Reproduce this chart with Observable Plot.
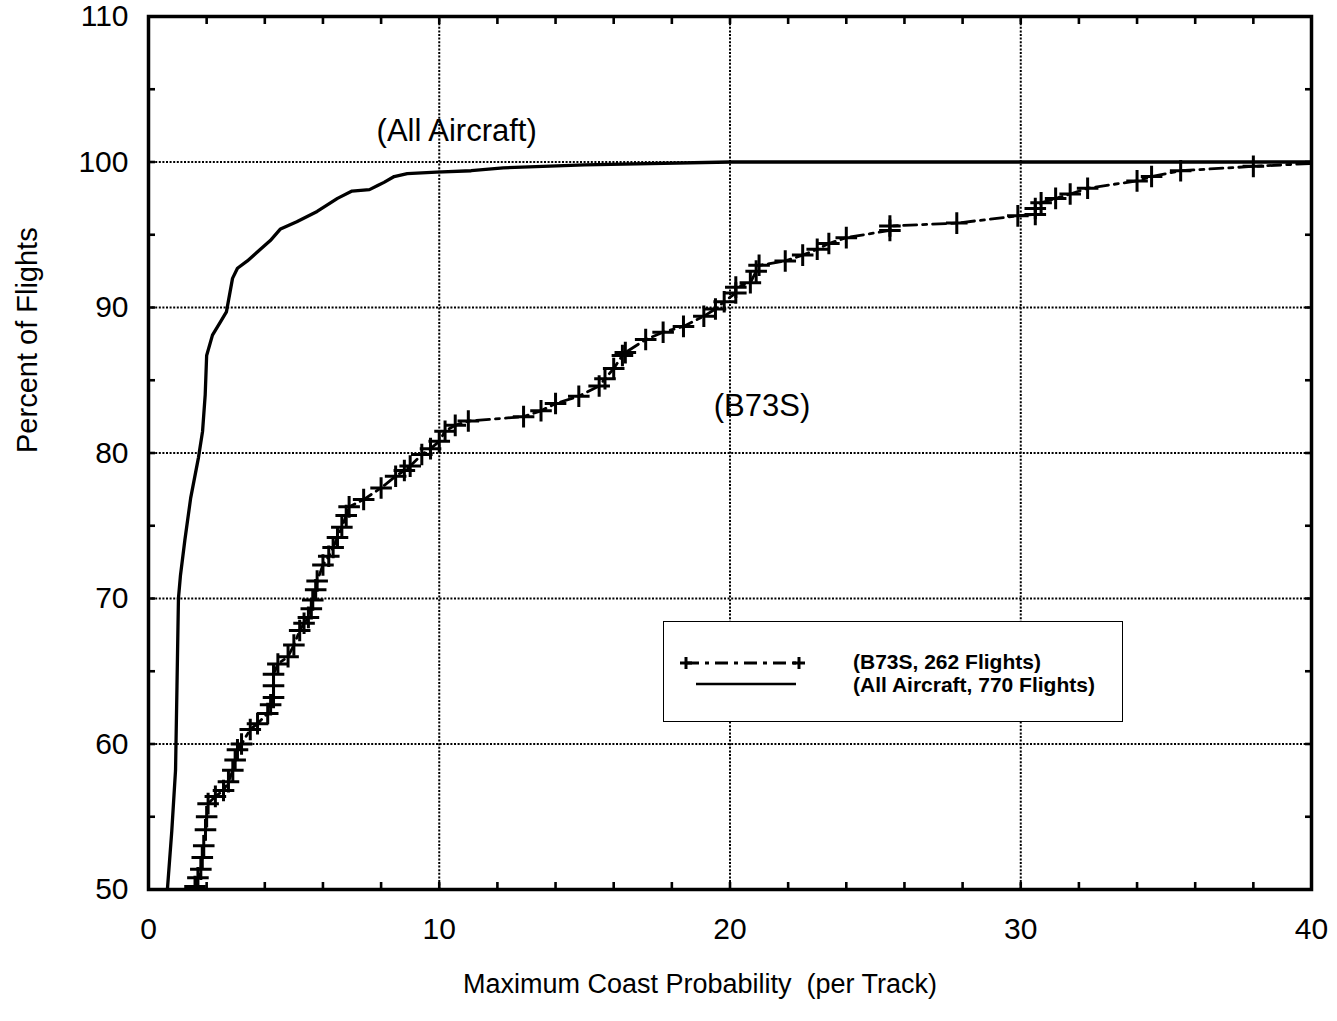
<!DOCTYPE html>
<html><head><meta charset="utf-8">
<script src="https://cdn.jsdelivr.net/npm/d3@7"></script>
<script src="https://cdn.jsdelivr.net/npm/@observablehq/plot@0.6"></script>
<style>
html,body{margin:0;padding:0;background:#fff;}
#wrap{position:relative;width:1337px;height:1021px;font-family:"Liberation Sans",Arial,Helvetica,sans-serif;}
#legend{position:absolute;left:663px;top:621px;width:460px;height:101px;border:1.5px solid #000;box-sizing:border-box;background:#fff;}
#legend svg{position:absolute;left:0;top:0;}
</style></head><body><div id="wrap"><div id="legend"></div></div>
<script>
// ---- data ----
const b73sX = [1.6,1.7,1.8,1.85,1.9,1.96,2.0,2.05,2.3,2.58,2.75,2.9,2.98,3.06,3.2,3.5,3.75,4.1,4.2,4.3,4.3,4.3,4.45,4.8,5.0,5.2,5.35,5.5,5.6,5.65,5.75,5.8,6.0,6.2,6.35,6.5,6.65,6.8,6.9,7.4,8.0,8.5,8.8,9.0,9.4,9.7,10.0,10.2,10.55,11.0,12.9,13.5,14.0,14.8,15.5,15.7,16.0,16.3,16.4,17.1,17.7,18.4,19.1,19.5,19.8,20.2,20.2,20.7,20.9,21.0,21.9,22.5,23.0,23.4,24.0,25.5,25.5,27.8,29.9,30.5,30.5,30.7,31.2,31.7,32.3,34.0,34.5,35.5,38.0,40.0];
const b73sY = [50.2,50.8,51.4,52.2,53.0,54.1,55.0,55.9,56.4,56.8,57.4,58.2,58.9,59.6,60.0,61.0,61.4,62.1,62.7,63.2,64.0,64.8,65.5,66.0,66.8,67.8,68.3,68.7,69.3,69.9,70.6,71.2,72.3,72.9,73.5,74.2,74.9,75.7,76.3,76.8,77.6,78.4,78.8,79.1,79.9,80.3,80.8,81.5,81.9,82.2,82.5,82.9,83.4,83.9,84.6,85.1,85.8,86.7,86.9,87.8,88.3,88.7,89.4,89.9,90.4,91.0,91.4,91.7,92.5,92.9,93.2,93.6,94.0,94.4,94.8,95.3,95.6,95.8,96.3,96.4,96.8,97.2,97.5,97.8,98.2,98.7,99.0,99.4,99.7,99.9];
const allX = [0.65,0.8,0.93,0.98,1.03,1.1,1.25,1.45,1.72,1.86,1.95,2.0,2.2,2.47,2.68,2.89,3.06,3.4,3.85,4.19,4.54,5.1,5.8,6.5,7.0,7.6,7.9,8.1,8.45,8.9,9.9,11.1,12.2,15.0,20.0,40.0];
const allY = [50,54,58.2,64,70,71.6,74,76.9,79.7,81.5,84,86.7,88.1,89.0,89.7,92.0,92.7,93.2,94.0,94.6,95.4,95.9,96.6,97.5,98.0,98.1,98.4,98.6,99.0,99.2,99.3,99.4,99.6,99.8,100,100];
const seriesNames = ["(B73S, 262 Flights)", "(All Aircraft, 770 Flights)"];
const annotationText = ["(All Aircraft)", "(B73S)"];
const annotationX = [10.6, 21.1];
const annotationY = [102.1, 83.2];
const xTickValues = [0,10,20,30,40];
const yTickValues = [50,60,70,80,90,100,110];
const xGridValues = [10,20,30];
const yGridValues = [60,70,80,90,100];
const xMinorTicks = [2,4,6,8,10,12,14,16,18,20,22,24,26,28,30,32,34,36,38];
const yMinorTicks = [55,60,65,70,75,80,85,90,95,100,105];
const xTitle = "Maximum Coast Probability\u00a0 (per Track)";
const yTitle = "Percent of Flights";

const b73s = b73sX.map((x,i)=>({x, y:b73sY[i]}));
const all = allX.map((x,i)=>({x, y:allY[i]}));
const annotations = annotationText.map((t,i)=>({text:t, x:annotationX[i], y:annotationY[i]}));

const gridStyle = {stroke:"#000", strokeOpacity:1, strokeWidth:2, strokeDasharray:"2,1.6"};
const minorStyle = {tickSize:-7, strokeWidth:2.6, tickFormat:()=>"", label:null};

const chart = Plot.plot({
  width:1337, height:1021,
  marginLeft:148, marginRight:26, marginTop:16, marginBottom:132,
  style:{fontFamily:'"Liberation Sans", Arial, Helvetica, sans-serif', fontSize:"30px", color:"#000", background:"#fff"},
  x:{domain:[0,40]},
  y:{domain:[50,110]},
  marks:[
    Plot.gridX(xGridValues, gridStyle),
    Plot.gridY(yGridValues, gridStyle),
    Plot.axisX(xMinorTicks, {anchor:"bottom", ...minorStyle}),
    Plot.axisX(xMinorTicks, {anchor:"top", ...minorStyle}),
    Plot.axisY(yMinorTicks, {anchor:"left", ...minorStyle}),
    Plot.axisY(yMinorTicks, {anchor:"right", ...minorStyle}),
    Plot.axisX(xTickValues, {anchor:"bottom", tickSize:0, tickPadding:28, label:null, fontSize:30}),
    Plot.axisY(yTickValues, {anchor:"left", tickSize:0, tickPadding:20, label:null, fontSize:30}),
    Plot.line(all, {x:"x", y:"y", stroke:"#000", strokeWidth:3.3, clip:true}),
    Plot.line(b73s, {x:"x", y:"y", stroke:"#000", strokeWidth:2.8, strokeDasharray:"13,6,4,6", clip:true}),
    Plot.dot(b73s, {x:"x", y:"y", symbol:"plus", r:7, stroke:"#000", strokeWidth:3, clip:true}),
    Plot.text(annotations, {x:"x", y:"y", text:"text", fontSize:31}),
    Plot.text([yTitle], {text:d=>d, frameAnchor:"left", rotate:-90, dx:-121, fontSize:29}),
    Plot.text([xTitle], {text:d=>d, frameAnchor:"bottom", dy:103, dx:-30, fontSize:27}),
    Plot.frame({stroke:"#000", strokeWidth:3.5})
  ]
});
document.getElementById("wrap").insertBefore(chart, document.getElementById("legend"));

// legend
const lg = d3.select("#legend").append("svg").attr("width",460).attr("height",101);
const rows = [{y:41, ty:47, dashed:true, x1:22, x2:135}, {y:62, ty:70, dashed:false, x1:32, x2:132}];
rows.forEach((r,i)=>{
  lg.append("line").attr("x1",r.x1).attr("x2",r.x2).attr("y1",r.y).attr("y2",r.y)
    .attr("stroke","#000").attr("stroke-width", r.dashed?2.8:2.5)
    .attr("stroke-dasharray", r.dashed?"13,6,4,6":null);
  if (r.dashed) {
    [r.x1, r.x2].forEach(cx=>{
      lg.append("line").attr("x1",cx-6).attr("x2",cx+6).attr("y1",r.y).attr("y2",r.y).attr("stroke","#000").attr("stroke-width",3);
      lg.append("line").attr("x1",cx).attr("x2",cx).attr("y1",r.y-6).attr("y2",r.y+6).attr("stroke","#000").attr("stroke-width",3);
    });
  }
  lg.append("text").attr("x",189).attr("y",r.ty).attr("font-size",21).attr("font-weight","bold")
    .attr("font-family",'"Liberation Sans", Arial, sans-serif').text(seriesNames[i]);
});
</script></body></html>
